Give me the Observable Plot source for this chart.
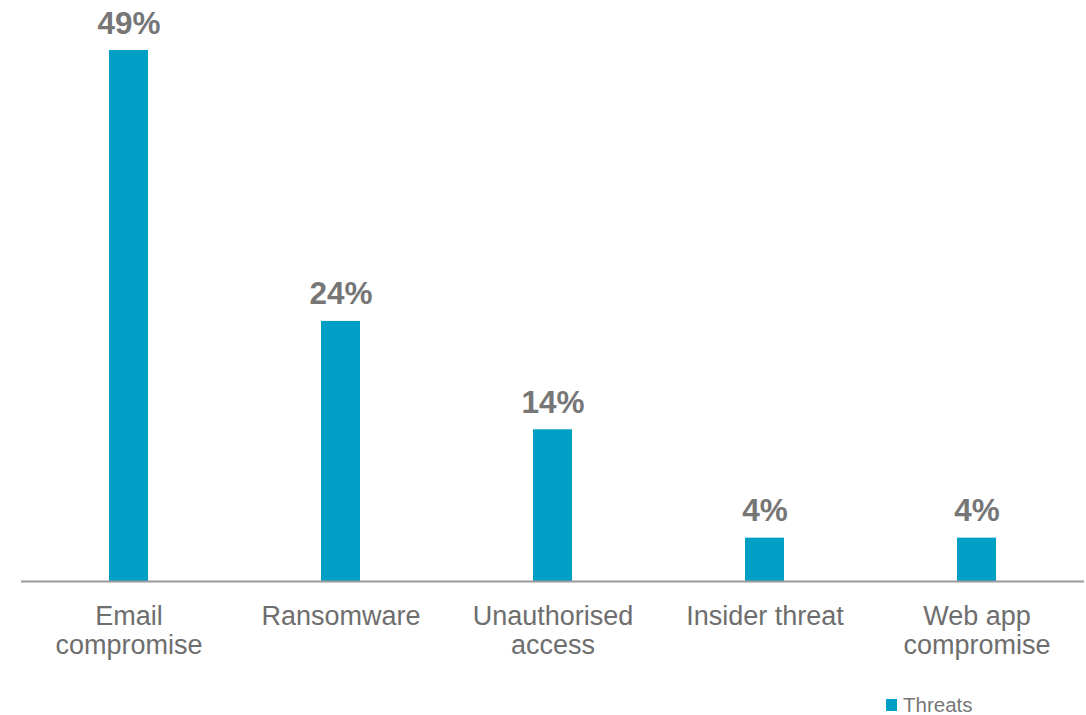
<!DOCTYPE html>
<html>
<head>
<meta charset="utf-8">
<script src="https://cdn.jsdelivr.net/npm/d3@7"></script>
<script src="https://cdn.jsdelivr.net/npm/@observablehq/plot@0.6"></script>
<style>
  html, body { margin: 0; padding: 0; background: #fff; }
  body { width: 1086px; height: 715px; overflow: hidden; font-family: "Liberation Sans", Arial, sans-serif; }
  #legend { display: flex; align-items: center; height: 30px; padding-left: 886px; font-size: 20.5px; color: #767676; }
  #legend .sw { width: 11px; height: 12px; background: #009fc6; margin-right: 6px; }
</style>
</head>
<body>
<div id="chart"></div>
<div id="legend"><span class="sw"></span><span>Threats</span></div>
<script>
const categories = ["Email\ncompromise", "Ransomware", "Unauthorised\naccess", "Insider threat", "Web app\ncompromise"];
const values = [49, 24, 14, 4, 4];
const seriesName = "Threats";

const data = categories.map((c, i) => ({category: c, value: values[i], series: seriesName}));

const chart = Plot.plot({
  width: 1086,
  height: 690,
  marginLeft: 21,
  marginRight: 2,
  marginTop: 50,
  marginBottom: 109,
  style: {fontFamily: "'Liberation Sans', Arial, sans-serif", background: "#fff"},
  x: {domain: categories, paddingInner: 0.816, paddingOuter: 0.408, label: null},
  y: {domain: [0, 49], axis: null},
  marks: [
    Plot.barY(data, {x: "category", y: "value", fill: "#009fc6"}),
    Plot.ruleY([0], {stroke: "#999999", strokeWidth: 2}),
    Plot.text(data, {x: "category", y: "value", text: d => d.value + "%", dy: -17, lineAnchor: "bottom",
      fontSize: 31.5, fontWeight: "bold", fill: "#767676"}),
    Plot.axisX({tickSize: 0, tickPadding: 22, fontSize: 27, lineHeight: 1.1, color: "#6e6e6e", label: null})
  ]
});
document.getElementById("chart").appendChild(chart);
</script>
</body>
</html>
